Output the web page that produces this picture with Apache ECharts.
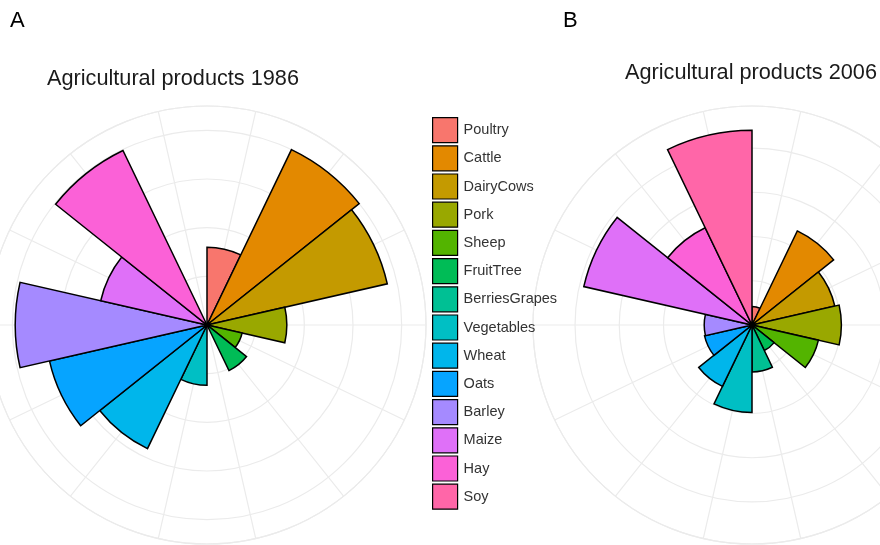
<!DOCTYPE html>
<html>
<head>
<meta charset="utf-8">
<script src="https://cdn.jsdelivr.net/npm/echarts@6/dist/echarts.min.js"></script>
<style>
  html, body { margin: 0; padding: 0; background: #fff; }
  #main { width: 880px; height: 545px; }
</style>
</head>
<body>
<div id="main"></div>
<script>
const categories = ['Poultry', 'Cattle', 'DairyCows', 'Pork', 'Sheep', 'FruitTree', 'BerriesGrapes',
  'Vegetables', 'Wheat', 'Oats', 'Barley', 'Maize', 'Hay', 'Soy'];
const values1986 = [8.0, 20.0, 19.0, 8.2, 3.7, 5.2, 0, 6.2, 14.1, 16.6, 19.7, 11.2, 19.9, 0];
const values2006 = [2.1, 11.8, 9.6, 10.1, 7.7, 3.2, 5.3, 9.9, 7.7, 5.5, 5.4, 19.5, 12.2, 22.0];
const palette = ['#F8766D', '#E38900', '#C49A00', '#99A800', '#53B400', '#00BC56', '#00C094',
  '#00BFC4', '#00B6EB', '#06A4FF', '#A58AFF', '#DF70F8', '#FB61D7', '#FF66A8'];
const titles = ['Agricultural products 1986', 'Agricultural products 2006'];

const chart = echarts.init(document.getElementById('main'));

const centers = [[207, 325], [752, 325]];
const R = 219;
const gridColor = '#ebebeb';
const font = 'Liberation Sans, Arial, sans-serif';

const polar = [];
const angleAxis = [];
const radiusAxis = [];
const series = [];

[values1986, values2006].forEach((vals, p) => {
  // ggplot puts the data max at 0.4 and the outer ring at 0.45
  const outer = Math.max(...vals) * 1.125;
  const gi = p * 2, bi = p * 2 + 1;
  polar.push({ center: centers[p], radius: [0, R] }, { center: centers[p], radius: [0, R] });

  // grid polar: spokes at category centres
  angleAxis.push({
    polarIndex: gi, type: 'value', min: 0, max: 14, interval: 1,
    startAngle: 90 - 360 / 28, clockwise: true,
    axisLine: { show: true, lineStyle: { color: gridColor, width: 1.2 } },
    axisTick: { show: false }, axisLabel: { show: false },
    splitLine: { show: true, lineStyle: { color: gridColor, width: 1.2 } }
  });
  radiusAxis.push({
    polarIndex: gi, type: 'value', min: 0, max: outer, interval: 5,
    axisLine: { show: false }, axisTick: { show: false }, axisLabel: { show: false },
    splitLine: { show: true, lineStyle: { color: gridColor, width: 1.2 } }
  });

  // bar polar
  angleAxis.push({
    polarIndex: bi, type: 'category', data: categories, startAngle: 90, clockwise: true,
    axisLine: { show: false }, axisTick: { show: false }, axisLabel: { show: false },
    splitLine: { show: false }
  });
  radiusAxis.push({
    polarIndex: bi, type: 'value', min: 0, max: outer,
    axisLine: { show: false }, axisTick: { show: false }, axisLabel: { show: false },
    splitLine: { show: false }
  });

  categories.forEach((name, i) => {
    series.push({
      type: 'bar',
      coordinateSystem: 'polar',
      polarIndex: bi,
      name: name,
      stack: 'panel' + p,
      barCategoryGap: '0%',
      silent: true,
      data: categories.map((c, j) => (j === i ? vals[j] : '-')),
      itemStyle: { color: palette[i], borderColor: '#000', borderWidth: 1.5 }
    });
  });
});

const tag = { fontFamily: font, fontSize: 22, fontWeight: 'normal', color: '#000' };
const head = { fontFamily: font, fontSize: 21.7, fontWeight: 'normal', color: '#1a1a1a' };

const option = {
  animation: false,
  backgroundColor: '#fff',
  title: [
    { text: 'A', left: 10, top: 10, padding: 0, textStyle: tag },
    { text: 'B', left: 563, top: 10, padding: 0, textStyle: tag },
    { text: titles[0], left: 47, top: 68, padding: 0, textStyle: head },
    { text: titles[1], left: 625, top: 62, padding: 0, textStyle: head }
  ],
  legend: {
    orient: 'vertical',
    left: 432,
    top: 117,
    padding: 0,
    itemWidth: 25,
    itemHeight: 25,
    itemGap: 2,
    icon: 'rect',
    selectedMode: false,
    data: categories,
    itemStyle: { borderColor: '#000', borderWidth: 1.2 },
    textStyle: { fontFamily: font, fontSize: 14.5, color: '#333', padding: [0, 0, 0, 1] }
  },
  polar: polar,
  angleAxis: angleAxis,
  radiusAxis: radiusAxis,
  series: series
};

chart.setOption(option);
</script>
</body>
</html>
